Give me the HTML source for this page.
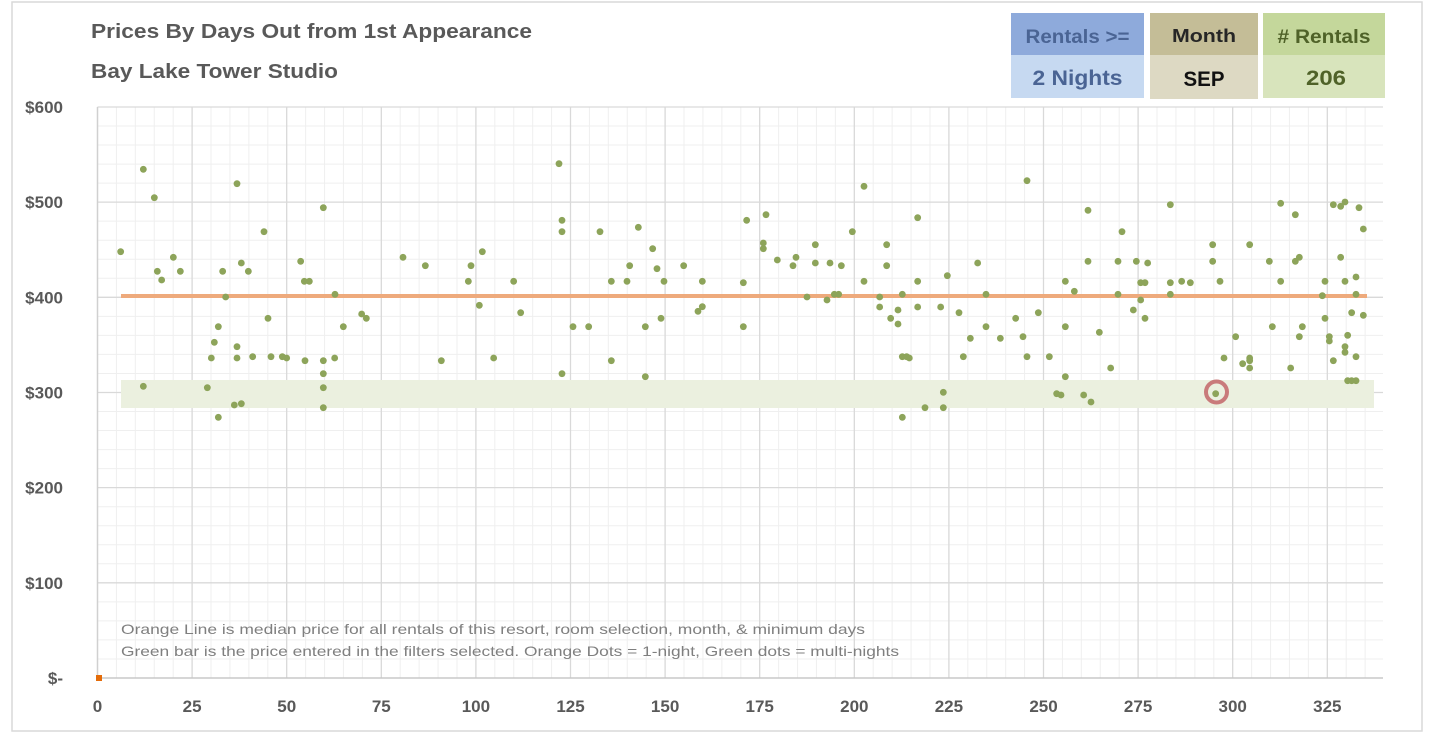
<!DOCTYPE html>
<html><head><meta charset="utf-8"><style>
html,body{margin:0;padding:0;background:#fff;width:1440px;height:744px;overflow:hidden}
svg{display:block}
text{font-family:"Liberation Sans",sans-serif;font-weight:bold}
</style></head><body>
<svg id="s" width="1440" height="744" xmlns="http://www.w3.org/2000/svg">
<rect x="12" y="2" width="1410" height="729" fill="#fff" stroke="#d9d9d9" stroke-width="1.5"/>
<g id="grid"></g>
<rect x="121" y="380" width="1253" height="28" fill="#ebf0df"/>
<line x1="121" y1="296" x2="1367" y2="296" stroke="#eeaa7c" stroke-width="4"/>
<g id="dots" fill="#8da45a"></g>
<circle cx="1216.5" cy="392" r="10.5" fill="none" stroke="#c97b7b" stroke-width="4"/>
<rect x="96" y="675" width="6" height="6" fill="#e46c0a"/>
<text x="91" y="38" font-size="20" fill="#595959" textLength="441" lengthAdjust="spacingAndGlyphs">Prices By Days Out from 1st Appearance</text>
<text x="91" y="78" font-size="20" fill="#595959" textLength="247" lengthAdjust="spacingAndGlyphs">Bay Lake Tower Studio</text>
<rect x="1011" y="13" width="133" height="42" fill="#8eaadb"/>
<rect x="1011" y="55" width="133" height="43" fill="#c6d9f1"/>
<text x="1077.5" y="43" font-size="19" fill="#4a6494" text-anchor="middle" textLength="104" lengthAdjust="spacingAndGlyphs">Rentals &gt;=</text>
<text x="1077.5" y="85" font-size="21" fill="#4a6494" text-anchor="middle" textLength="90" lengthAdjust="spacingAndGlyphs">2 Nights</text>
<rect x="1150" y="13" width="108" height="42" fill="#c4bd97"/>
<rect x="1150" y="55" width="108" height="44" fill="#ddd9c3"/>
<text x="1204" y="42" font-size="18" fill="#262626" text-anchor="middle" textLength="64" lengthAdjust="spacingAndGlyphs">Month</text>
<text x="1204" y="86" font-size="21" fill="#111" text-anchor="middle" textLength="41" lengthAdjust="spacingAndGlyphs">SEP</text>
<rect x="1263" y="13" width="122" height="42" fill="#c4d79b"/>
<rect x="1263" y="55" width="122" height="43" fill="#d8e4bc"/>
<text x="1324" y="43" font-size="19" fill="#4f6228" text-anchor="middle" textLength="93" lengthAdjust="spacingAndGlyphs"># Rentals</text>
<text x="1326" y="85" font-size="21" fill="#4f6228" text-anchor="middle" textLength="40" lengthAdjust="spacingAndGlyphs">206</text>
<text x="121" y="634" font-size="14" fill="#7f7f7f" style="font-weight:normal" textLength="744" lengthAdjust="spacingAndGlyphs">Orange Line is median price for all rentals of this resort, room selection, month, &amp; minimum days</text>
<text x="121" y="656" font-size="14" fill="#7f7f7f" style="font-weight:normal" textLength="778" lengthAdjust="spacingAndGlyphs">Green bar is the price entered in the filters selected. Orange Dots = 1-night, Green dots = multi-nights</text>
<g id="labels" font-size="17" fill="#595959"></g>
</svg>
<script>
var NS="http://www.w3.org/2000/svg";
function el(p,t,a,txt){var e=document.createElementNS(NS,t);for(var k in a)e.setAttribute(k,a[k]);if(txt!=null)e.textContent=txt;p.appendChild(e);return e;}
var g=document.getElementById('grid'),X0=97.5,XS=94.6/25,Y0=678,YS=95.17/100,XR=1383,YT=107;
for(var v=0;v<=600;v+=20){var y=Y0-v*YS;if(v%100)el(g,'line',{x1:X0,x2:XR,y1:y,y2:y,stroke:'#efefef','stroke-width':1});}
for(var u=5;u*XS+X0<XR;u+=5){var x=X0+u*XS;if(u%25)el(g,'line',{x1:x,x2:x,y1:YT,y2:Y0,stroke:'#efefef','stroke-width':1});}
for(var v=100;v<=600;v+=100){var y=Y0-v*YS;el(g,'line',{x1:X0,x2:XR,y1:y,y2:y,stroke:'#d9d9d9','stroke-width':1.3});}
for(var u=25;u*XS+X0<XR;u+=25){var x=X0+u*XS;el(g,'line',{x1:x,x2:x,y1:YT,y2:Y0,stroke:'#d9d9d9','stroke-width':1.3});}
el(g,'line',{x1:X0,x2:X0,y1:YT,y2:Y0,stroke:'#d0d0d0','stroke-width':1.5});
el(g,'line',{x1:X0,x2:XR,y1:Y0,y2:Y0,stroke:'#c8c8c8','stroke-width':1.5});
var L=document.getElementById('labels');
var yl=['$-','$100','$200','$300','$400','$500','$600'];
for(var i=0;i<7;i++)el(L,'text',{x:63,y:Y0-i*100*YS+6,'text-anchor':'end'},yl[i]);
for(var u=0;u<=325;u+=25)el(L,'text',{x:X0+u*XS,y:712,'text-anchor':'middle'},String(u));
var crops=[[95,[[145,58],[178,143],[426,101],[685,173],[507,245],[77,305],[235,322],[187,364],[200,390],[256,364],[383,364],[439,339],[460,364],[617,334],[628,394],[643,394],[924,322],[392,441],[720,433],[519,505],[800,492],[814,505],[370,530],[745,530],[358,577],[426,590],[349,624],[426,624],[473,620],[528,620],[562,620],[575,624],[630,632],[685,632],[719,624],[685,671],[145,709],[337,713],[685,713],[418,765],[439,761],[685,773],[370,802]]],
[420,[[417,41],[426,211],[426,245],[540,245],[655,232],[980,211],[187,305],[698,296],[16,347],[153,347],[629,347],[711,356],[791,347],[145,394],[281,394],[574,394],[621,394],[732,394],[847,394],[970,398],[178,466],[302,488],[847,470],[834,484],[723,505],[459,530],[506,530],[676,530],[970,530],[64,632],[221,624],[574,632],[426,671],[676,680]]],
[745,[[357,109],[846,92],[63,194],[518,203],[322,245],[55,279],[55,296],[211,284],[425,284],[97,330],[153,322],[144,347],[211,339],[255,339],[289,347],[425,347],[698,339],[357,394],[518,394],[607,377],[961,394],[186,441],[246,450],[268,433],[281,433],[404,441],[472,433],[723,433],[988,424],[404,471],[459,480],[518,471],[587,471],[642,488],[880,488],[437,505],[459,522],[812,505],[723,530],[961,530],[676,565],[766,565],[834,560],[472,620],[485,620],[493,624],[655,620],[846,620],[913,620],[961,680],[595,727],[935,731],[948,735],[540,773],[595,773],[472,802]]],
[1070,[[54,181],[301,164],[632,160],[676,194],[790,164],[812,169],[825,156],[867,173],[156,245],[880,237],[428,284],[539,284],[54,334],[144,334],[199,334],[233,339],[428,334],[598,334],[676,334],[688,322],[812,322],[212,398],[225,398],[301,398],[335,394],[361,398],[450,394],[632,394],[765,394],[825,394],[858,381],[144,433],[301,433],[757,437],[858,433],[212,450],[190,480],[225,505],[765,505],[845,488],[880,496],[88,547],[607,530],[697,530],[497,560],[688,560],[778,560],[778,573],[833,556],[825,590],[825,607],[462,624],[518,641],[539,624],[539,632],[539,654],[790,632],[858,620],[122,654],[662,654],[833,692],[845,692],[858,692],[41,735],[63,756],[437,731]]]];
var D=document.getElementById('dots');
crops.forEach(function(c){c[1].forEach(function(p){el(D,'circle',{cx:c[0]+p[0]/3,cy:150+p[1]/3,r:3.4});});});
</script>
</body></html>
